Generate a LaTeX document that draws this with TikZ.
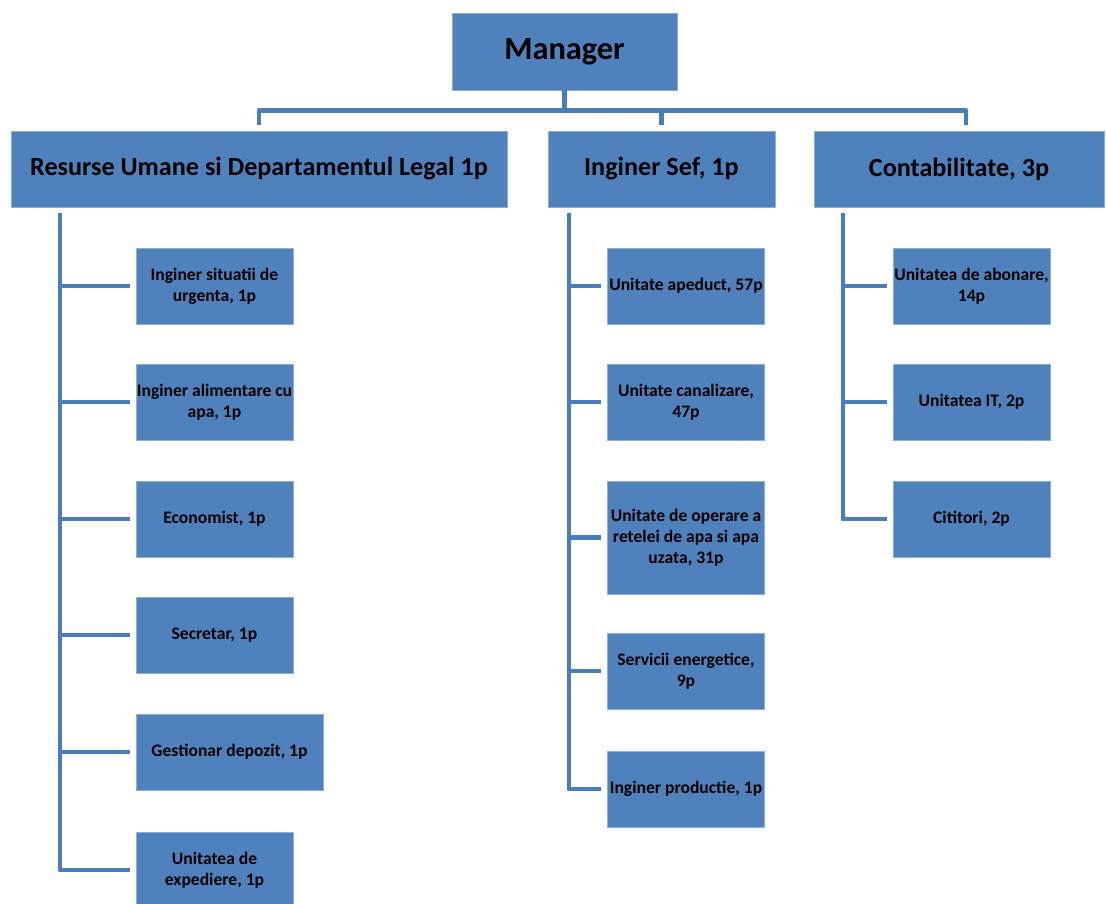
\documentclass[tikz,border=0pt]{standalone}
\usepackage{fontspec}
\setmainfont{Carlito}
\usetikzlibrary{positioning}

\definecolor{boxblue}{HTML}{4F81BD}
\definecolor{boxedge}{HTML}{8DB0DA}
\definecolor{linkblue}{HTML}{4A7EBB}

\begin{document}
\begin{tikzpicture}[x=0.025cm,y=-0.025cm,
  unit/.style={draw=boxedge,fill=boxblue,line width=0.5pt,align=center,inner sep=0pt,
    minimum width=3.925cm,minimum height=1.9cm,font=\bfseries\fontsize{12.5}{14.8}\selectfont},
  dept/.style={unit,minimum height=1.9cm,font=\bfseries\fontsize{18.6}{21}\selectfont},
  link/.style={draw=linkblue,line width=3.5pt,line join=round}]
  \useasboundingbox (0,0) rectangle (1106,903);

  % top level
  \node[unit,minimum width=5.625cm,minimum height=1.925cm,
    font=\bfseries\fontsize{23}{26}\selectfont] (mgr) at (564.5,51.5) {Manager};

  % departments
  \node[dept,minimum width=12.4cm] (hr) at (259,169) {Resurse Umane si Departamentul Legal 1p};
  \node[dept,minimum width=5.675cm] (sef) at (661.5,169) {Inginer Sef, 1p};
  \node[dept,minimum width=7.25cm] (cont) at (959,169) {Contabilitate, 3p};

  % bus
  \draw[link] (mgr.south) -- ++(0,20) coordinate (bus);
  \draw[link,shorten <=0.15cm,shorten >=0.15cm] (hr.north) |- (bus) -| ([xshift=0.175cm]cont.north);
  \draw[link,shorten >=0.15cm] (sef.north |- bus) -- (sef.north);

  % resurse umane
  \node[unit] (h1) at (214.5,286) {Inginer situatii de\\urgenta, 1p};
  \node[unit] (h2) at (214.5,402) {Inginer alimentare cu\\apa, 1p};
  \node[unit] (h3) at (214.5,519) {Economist, 1p};
  \node[unit] (h4) at (214.5,635) {Secretar, 1p};
  \node[unit,minimum width=4.675cm] (h5) at (229.5,752) {Gestionar depozit, 1p};
  \node[unit] (h6) at (214.5,870) {Unitatea de\\expediere, 1p};

  \coordinate (hrtop) at (60,213);
  \draw[link] (hrtop) |- ([xshift=-0.15cm]h6.west);
  \foreach \n in {h1,h2,h3,h4,h5}
    \draw[link] (hrtop |- \n.west) -- ([xshift=-0.15cm]\n.west);

  % inginer sef
  \node[unit] (s1) at (686,286) {Unitate apeduct, 57p};
  \node[unit] (s2) at (686,402) {Unitate canalizare,\\47p};
  \node[unit,minimum height=2.825cm] (s3) at (686,537.5) {Unitate de operare a\\retelei de apa si apa\\uzata, 31p};
  \node[unit] (s4) at (686,671) {Servicii energetice,\\9p};
  \node[unit] (s5) at (686,789) {Inginer productie, 1p};

  \coordinate (seftop) at (569,213);
  \draw[link] (seftop) |- ([xshift=-0.15cm]s5.west);
  \foreach \n in {s1,s2,s3,s4}
    \draw[link] (seftop |- \n.west) -- ([xshift=-0.15cm]\n.west);

  % contabilitate
  \node[unit] (c1) at (971.5,286) {Unitatea de abonare,\\14p};
  \node[unit] (c2) at (971.5,402) {Unitatea IT, 2p};
  \node[unit] (c3) at (971.5,519) {Cititori, 2p};

  \coordinate (conttop) at (843,213);
  \draw[link] (conttop) |- ([xshift=-0.15cm]c3.west);
  \foreach \n in {c1,c2}
    \draw[link] (conttop |- \n.west) -- ([xshift=-0.15cm]\n.west);
\end{tikzpicture}
\end{document}
